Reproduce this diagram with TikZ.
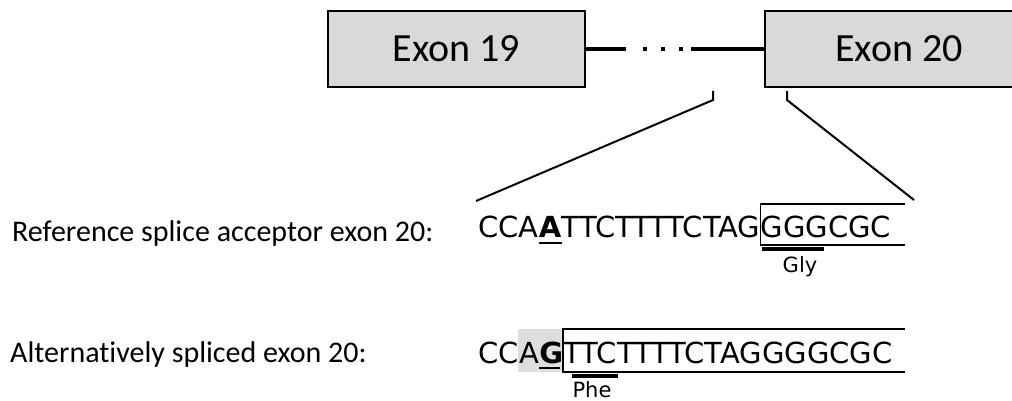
\documentclass[tikz,border=0pt]{standalone}
\usepackage{fontspec}
\usetikzlibrary{calc,backgrounds}
\newfontfamily\calib[Ligatures=NoCommon]{Carlito}
\newfontfamily\dejav{DejaVu Sans}
\begin{document}
\begin{tikzpicture}[x=1pt,y=-1pt,
  exon/.style={draw, line width=1.8pt, fill=black!15, minimum height=76pt, inner sep=0pt, font=\calib\fontsize{40}{40}\selectfont},
  seq/.style={inner sep=0pt, anchor=base west, font=\dejav\fontsize{29}{29}\selectfont},
  lbl/.style={inner sep=0pt, anchor=base west, font=\calib\fontsize{30}{30}\selectfont},
  aa/.style={inner sep=0pt, anchor=base, font=\dejav\fontsize{21}{21}\selectfont},
  thinline/.style={line width=2pt},
  boxline/.style={line width=1.8pt},
  bar/.style={line width=4pt},
  uline/.style={line width=2.4pt},
  shade/.style={fill=black!13}]
\useasboundingbox (0,0) rectangle (1012,401);
\clip (0,0) rectangle (1012,401);
% exons
\node[exon, minimum width=257pt] (e19) at (456.5,49) {Exon 19};
\node[exon, minimum width=268pt] (e20) at (899,49) {Exon 20};
% intron
\draw[bar] (e19.east) -- ++(40,0) coordinate (g1);
\foreach \dx in {17,35,53} \fill ($(g1)+(\dx,-2)$) rectangle ++(4,4);
\draw[bar] (e20.west) -- ++(-73,0);
% zoom lines
\coordinate (t1) at (713,91);
\coordinate (s1) at (476,201);
\coordinate (t2) at (787,91);
\coordinate (s2) at (914,200);
\draw[thinline] (t1) -- ++(0,9) -- (s1);
\draw[thinline] (t2) -- ++(0,9) -- (s2);
% labels
\node[lbl] (l1) at (12,241) {Reference splice acceptor exon 20:};
\node[lbl] (l2) at (10,362) {Alternatively spliced exon 20:};
% reference sequence
\coordinate (rend) at (905,0);
\node[seq] (r1) at (478,237) {CCA};
\node[seq] (r2) at (r1.base east) {\bfseries A};
\node[seq] (r3) at (r2.base east) {TTCTTTTCTAG};
\node[seq] (r4) at (r3.base east) {GGGCGC};
\draw[uline] ($(r2.base west)+(0,6)$) -- ($(r2.base east)+(0,6)$);
\coordinate (b1) at ($(r4.base west)+(0,-33)$);
\coordinate (b2) at ($(r4.base west)+(0,8)$);
\draw[boxline] (b1 -| rend) -- (b1) -- (b2) -- (b2 -| rend);
\draw[bar] ($(r4.base west)+(1,12)$) -- ++(62,0);
\node[aa] (gly) at (800,272) {Gly};
% alternative sequence
\node[seq] (a1) at (478,363) {CC};
\node[seq] (a1b) at (a1.base east) {A};
\node[seq] (a2) at (a1b.base east) {\bfseries G};
\node[seq] (a3) at (a2.base east) {TTCTTTTCTAGGGGCGC};
\begin{scope}[on background layer]
\fill[shade] ($(a1b.base west)+(-1,-34)$) rectangle ($(a2.base east)+(0,9)$);
\end{scope}
\draw[uline] ($(a2.base west)+(0,5)$) -- ($(a2.base east)+(-3,5)$);
\coordinate (c1) at ($(a2.base east)+(0,-34)$);
\coordinate (c2) at ($(a2.base east)+(0,9)$);
\draw[boxline] (c1 -| rend) -- (c1) -- (c2) -- (c2 -| rend);
\draw[bar] ($(a3.base west)+(9,13)$) -- ++(46,0);
\node[aa] (phe) at (592,397) {Phe};
\end{tikzpicture}
\end{document}
